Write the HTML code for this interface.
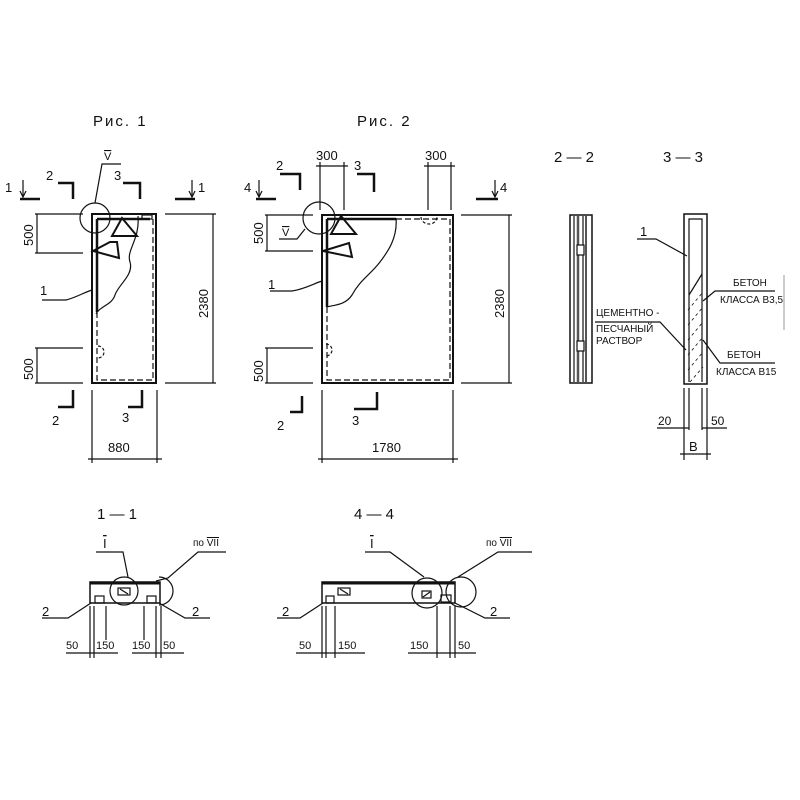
<!DOCTYPE html>
<html><head><meta charset="utf-8"><style>
html,body{margin:0;padding:0;background:#fff;}
svg{display:block;}
text{font-family:"Liberation Sans",sans-serif;fill:#111;}
</style></head><body>
<svg width="800" height="800" viewBox="0 0 800 800" xmlns="http://www.w3.org/2000/svg">
<rect width="800" height="800" fill="#fff"/>
<g stroke="#111" fill="none" stroke-width="1.2">
<!-- ===== Fig 1 ===== -->
<rect x="92" y="214" width="64" height="169" stroke-width="2"/>
<line x1="97" y1="219" x2="150" y2="219" stroke-width="2.5"/>
<rect x="142" y="215" width="10" height="4"/>
<path d="M97 312 V380 H153 V219" stroke-dasharray="6,3"/>
<path d="M97 219 V312" stroke-width="2.5"/>
<path d="M138 216 C140 240,126 250,130 262 C134 275,118 285,115 295 C112 305,100 306,96 314"/>
<path d="M112 236 L122 218 L137 236 Z" stroke-width="2"/>
<path d="M93 251 L110 242 L117 242 L119 258 Z" stroke-width="2"/>
<circle cx="95" cy="218" r="15"/>
<path d="M95 203 L102 164 L121 164"/>
<path d="M98 346 a5 5 0 0 1 0 12" stroke-dasharray="3,2"/>
<!-- leader 1 -->
<path d="M42 300 L66 300 C75 298,85 292,92 290"/>
<!-- left dims -->
<line x1="35" y1="214" x2="83" y2="214"/><line x1="35" y1="253" x2="83" y2="253"/>
<line x1="37" y1="214" x2="37" y2="253"/>
<line x1="35" y1="348" x2="83" y2="348"/><line x1="35" y1="383" x2="83" y2="383"/>
<line x1="37" y1="348" x2="37" y2="383"/>
<!-- right dim -->
<line x1="165" y1="214" x2="216" y2="214"/><line x1="165" y1="383" x2="216" y2="383"/>
<line x1="213" y1="214" x2="213" y2="383"/>
<!-- bottom dim -->
<line x1="92" y1="390" x2="92" y2="463"/><line x1="157" y1="390" x2="157" y2="463"/>
<line x1="88" y1="459" x2="162" y2="459"/>
<!-- section marks fig1 -->
<path d="M20 199 H40" stroke-width="2.5"/><path d="M23 180 V197" /><path d="M20 191 L23 197 L26 191"/>
<path d="M58 183 H73 V199" stroke-width="2.5"/>
<path d="M123 183 H140 V199" stroke-width="2.5"/>
<path d="M175 199 H195" stroke-width="2.5"/><path d="M192 180 V197"/><path d="M189 191 L192 197 L195 191"/>
<path d="M58 407 H73 V390" stroke-width="2.5"/>
<path d="M128 407 H142 V390" stroke-width="2.5"/>

<!-- ===== Fig 2 ===== -->
<rect x="322" y="215" width="131" height="168" stroke-width="2"/>
<line x1="327" y1="219" x2="396" y2="219" stroke-width="2.5"/>
<path d="M327 307 V380 H450 V219 H396" stroke-dasharray="6,3"/>
<path d="M327 219 V307" stroke-width="2.5"/>
<path d="M396 218 C398 240,385 255,380 262 C370 275,360 280,352 295 C345 306,332 305,327 307"/>
<path d="M331 234 L341 216 L356 234 Z" stroke-width="2"/>
<path d="M323 251 L349 243 L352 257 Z" stroke-width="2"/>
<circle cx="319" cy="218" r="16"/>
<path d="M305 229 L297 239 L279 239"/>
<path d="M421 217 a8 7 0 0 0 16 0" stroke-dasharray="3,2"/>
<path d="M326 344 a5 5 0 0 1 0 12" stroke-dasharray="3,2"/>
<path d="M270 291 L292 291 C305 289,315 283,322 281"/>
<!-- dims fig 2 -->
<line x1="265" y1="215" x2="313" y2="215"/><line x1="265" y1="251" x2="313" y2="251"/>
<line x1="267" y1="215" x2="267" y2="251"/>
<line x1="265" y1="348" x2="313" y2="348"/><line x1="265" y1="383" x2="313" y2="383"/>
<line x1="267" y1="348" x2="267" y2="383"/>
<line x1="461" y1="215" x2="512" y2="215"/><line x1="461" y1="383" x2="512" y2="383"/>
<line x1="509" y1="215" x2="509" y2="383"/>
<line x1="322" y1="390" x2="322" y2="463"/><line x1="453" y1="390" x2="453" y2="463"/>
<line x1="318" y1="459" x2="458" y2="459"/>
<line x1="320" y1="162" x2="320" y2="210"/><line x1="344" y1="162" x2="344" y2="210"/>
<line x1="316" y1="166" x2="348" y2="166"/>
<line x1="428" y1="162" x2="428" y2="210"/><line x1="451" y1="162" x2="451" y2="210"/>
<line x1="424" y1="166" x2="455" y2="166"/>
<path d="M256 199 H276" stroke-width="2.5"/><path d="M259 180 V197"/><path d="M256 191 L259 197 L262 191"/>
<path d="M280 174 H300 V190" stroke-width="2.5"/>
<path d="M357 174 H374 V192" stroke-width="2.5"/>
<path d="M476 199 H498" stroke-width="2.5"/><path d="M495 180 V197"/><path d="M492 191 L495 197 L498 191"/>
<path d="M290 412 H302 V396" stroke-width="2.5"/>
<path d="M354 409 H377 V392" stroke-width="2.5"/>

<!-- ===== 2-2 ===== -->
<rect x="570" y="215" width="22" height="168" stroke-width="1.5"/>
<line x1="574" y1="216" x2="574" y2="382"/>
<line x1="578" y1="216" x2="578" y2="382" stroke-width="2.5" stroke="#555"/>
<line x1="583" y1="216" x2="583" y2="382"/>
<line x1="586" y1="216" x2="586" y2="382" stroke-width="2" stroke="#555"/>
<rect x="577" y="245" width="7" height="10" fill="#fff"/>
<rect x="577" y="341" width="7" height="10" fill="#fff"/>
<!-- ===== 3-3 ===== -->
<rect x="684" y="214" width="23" height="170" stroke-width="1.5"/>
<path d="M689 295 V219 H702 V274" />
<path d="M689 295 L702 274" />
<line x1="689" y1="295" x2="689" y2="382"/>
<line x1="702" y1="274" x2="702" y2="382"/>
<g stroke-width="0.8" stroke-dasharray="3,3">
<line x1="688" y1="310" x2="703" y2="292"/><line x1="688" y1="325" x2="703" y2="307"/>
<line x1="688" y1="340" x2="703" y2="322"/><line x1="688" y1="355" x2="703" y2="337"/>
<line x1="688" y1="370" x2="703" y2="352"/><line x1="690" y1="382" x2="703" y2="367"/>
</g>
<path d="M637 239 L656 239 L687 256"/>
<path d="M595 322 L660 322 L686 350"/>
<path d="M703 301 L715 291 L775 291"/>
<path d="M703 340 L720 363 L775 363"/>
<line x1="784" y1="275" x2="784" y2="330" stroke="#aaa"/>
<line x1="684" y1="388" x2="684" y2="460"/><line x1="689" y1="388" x2="689" y2="430"/>
<line x1="702" y1="388" x2="702" y2="430"/><line x1="707" y1="388" x2="707" y2="460"/>
<line x1="657" y1="428" x2="689" y2="428"/><line x1="702" y1="428" x2="727" y2="428"/>
<line x1="680" y1="454" x2="711" y2="454"/>

<!-- ===== 1-1 ===== -->
<rect x="90" y="582" width="70" height="21" stroke-width="1.5"/>
<line x1="90" y1="583" x2="160" y2="583" stroke-width="3"/>
<rect x="95" y="596" width="9" height="7"/><rect x="147" y="596" width="9" height="7"/>
<rect x="118" y="588" width="12" height="7"/><line x1="120" y1="589" x2="128" y2="594"/>
<circle cx="124" cy="591" r="14"/>
<path d="M159 577 a14 14 0 0 1 0 28"/>
<path d="M156 581 L168 578 L198 552 L226 552"/>
<path d="M96 552 L123 552 L128 577"/>
<path d="M91 603 L68 618 L42 618"/>
<path d="M159 603 L185 618 L210 618"/>
<line x1="90" y1="606" x2="90" y2="658"/><line x1="94" y1="606" x2="94" y2="658"/>
<line x1="106" y1="606" x2="106" y2="640"/>
<line x1="144" y1="606" x2="144" y2="640"/>
<line x1="156" y1="606" x2="156" y2="658"/><line x1="161" y1="606" x2="161" y2="658"/>
<line x1="66" y1="653" x2="118" y2="653"/><line x1="132" y1="653" x2="184" y2="653"/>

<!-- ===== 4-4 ===== -->
<rect x="322" y="582" width="133" height="21" stroke-width="1.5"/>
<line x1="322" y1="583" x2="455" y2="583" stroke-width="3"/>
<rect x="338" y="588" width="12" height="7"/><line x1="340" y1="589" x2="348" y2="594"/>
<rect x="326" y="596" width="8" height="7"/>
<rect x="422" y="591" width="9" height="7"/><line x1="423" y1="597" x2="430" y2="592"/>
<rect x="441" y="595" width="10" height="7"/>
<circle cx="427" cy="593" r="15"/>
<circle cx="461" cy="592" r="15"/>
<path d="M365 552 L390 552 L424 577"/>
<path d="M458 577 L498 552 L532 552"/>
<path d="M323 603 L300 618 L277 618"/>
<path d="M455 603 L485 618 L510 618"/>
<line x1="322" y1="606" x2="322" y2="658"/><line x1="326" y1="606" x2="326" y2="658"/>
<line x1="335" y1="606" x2="335" y2="658"/>
<line x1="437" y1="606" x2="437" y2="658"/>
<line x1="450" y1="606" x2="450" y2="658"/><line x1="455" y1="606" x2="455" y2="658"/>
<line x1="296" y1="653" x2="365" y2="653"/><line x1="408" y1="653" x2="476" y2="653"/>
</g>

<g font-size="13">
<text x="93" y="126" font-size="15" letter-spacing="2">Рис. 1</text>
<text x="357" y="126" font-size="15" letter-spacing="2">Рис. 2</text>
<text x="104" y="160" font-size="11" text-decoration="overline">V</text>
<text x="5" y="192">1</text><text x="46" y="180">2</text><text x="114" y="180">3</text><text x="198" y="192">1</text>
<text x="52" y="425">2</text><text x="122" y="422">3</text>
<text x="40" y="295">1</text>
<text x="108" y="452">880</text>
<text transform="translate(33,246) rotate(-90)">500</text>
<text transform="translate(33,380) rotate(-90)">500</text>
<text transform="translate(208,318) rotate(-90)">2380</text>

<text x="244" y="192">4</text><text x="276" y="170">2</text><text x="354" y="170">3</text><text x="500" y="192">4</text>
<text x="316" y="160">300</text><text x="425" y="160">300</text>
<text x="282" y="236" font-size="11" text-decoration="overline">V</text>
<text x="268" y="289">1</text>
<text x="277" y="430">2</text><text x="352" y="425">3</text>
<text x="372" y="452">1780</text>
<text transform="translate(263,244) rotate(-90)">500</text>
<text transform="translate(263,382) rotate(-90)">500</text>
<text transform="translate(504,318) rotate(-90)">2380</text>

<text x="554" y="162" font-size="15">2 — 2</text>
<text x="663" y="162" font-size="15">3 — 3</text>
<text x="640" y="236">1</text>
<text x="733" y="286" font-size="10">БЕТОН</text>
<text x="720" y="303" font-size="10">КЛАССА В3,5</text>
<text x="727" y="358" font-size="10">БЕТОН</text>
<text x="716" y="375" font-size="10">КЛАССА В15</text>
<text x="596" y="316" font-size="10">ЦЕМЕНТНО -</text>
<text x="596" y="332" font-size="10">ПЕСЧАНЫЙ</text>
<text x="596" y="344" font-size="10">РАСТВОР</text>
<text x="658" y="425" font-size="12">20</text><text x="711" y="425" font-size="12">50</text>
<text x="689" y="451">В</text>

<text x="97" y="519" font-size="15">1 — 1</text>
<text x="354" y="519" font-size="15">4 — 4</text>
<text x="103" y="548" text-decoration="overline">I</text>
<text x="193" y="546" font-size="10">по <tspan text-decoration="overline">VII</tspan></text>
<text x="370" y="548" text-decoration="overline">I</text>
<text x="486" y="546" font-size="10">по <tspan text-decoration="overline">VII</tspan></text>
<text x="42" y="616">2</text><text x="192" y="616">2</text>
<text x="282" y="616">2</text><text x="490" y="616">2</text>
<g font-size="11">
<text x="66" y="649">50</text><text x="96" y="649">150</text><text x="132" y="649">150</text><text x="163" y="649">50</text>
<text x="299" y="649">50</text><text x="338" y="649">150</text><text x="410" y="649">150</text><text x="458" y="649">50</text>
</g>
</g>
</svg>
</body></html>
